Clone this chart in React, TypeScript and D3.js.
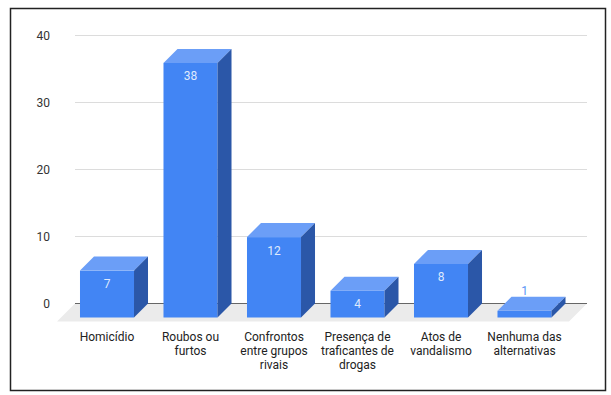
import React from "react";
import * as d3 from "d3";

const categories = [
  ["Homicídio"],
  ["Roubos ou", "furtos"],
  ["Confrontos", "entre grupos", "rivais"],
  ["Presença de", "traficantes de", "drogas"],
  ["Atos de", "vandalismo"],
  ["Nenhuma das", "alternativas"],
];
const values = [7, 38, 12, 4, 8, 1];
const yTicks = [0, 10, 20, 30, 40];

const W = 611;
const H = 395;
const depth = 14; // 3d offset of the bars
const floorDepth = 18;
const backLeft = 75;
const backRight = 587;

export default function App() {
  const keys = categories.map((c) => c.join(" "));

  // front plane of the bars
  const x = d3
    .scaleBand<string>()
    .domain(keys)
    .range([65.25, 566.25])
    .paddingInner(0.353)
    .paddingOuter(0.1765);

  // back plane (where gridlines live)
  const y = d3.scaleLinear().domain([0, 40]).range([303.5, 35.5]);
  const yFront = (v: number) => y(v) + depth;

  const floor = [
    [backLeft, y(0)],
    [backRight, y(0)],
    [backRight - floorDepth, y(0) + floorDepth],
    [backLeft - floorDepth, y(0) + floorDepth],
  ];
  const line = d3.line();

  return (
    <svg
      width={W}
      height={H}
      style={{ position: "absolute", left: 0, top: 0, background: "#fff" }}
      fontFamily="Roboto, Arial, sans-serif"
    >
      <rect x={10.5} y={8.5} width={595} height={382} fill="#fff" stroke="#222" strokeWidth={1.5} />

      {yTicks.map((t) => (
        <g key={t}>
          {t !== 0 && (
            <line x1={backLeft} x2={backRight} y1={y(t)} y2={y(t)} stroke="#dcdcdc" strokeWidth={1} />
          )}
          <text x={50} y={y(t) + 4.5} textAnchor="end" fontSize={12} fill="#333">
            {t}
          </text>
        </g>
      ))}

      <path d={line(floor as [number, number][]) + "Z"} fill="#ebebeb" />
      <line x1={backLeft} x2={backRight} y1={y(0)} y2={y(0)} stroke="#666" strokeWidth={1} />

      {values.map((v, i) => {
        const x0 = x(keys[i]) as number;
        const bw = x.bandwidth();
        const ft = yFront(v);
        const fb = yFront(0);
        const top = [
          [x0, ft],
          [x0 + depth, ft - depth],
          [x0 + bw + depth, ft - depth],
          [x0 + bw, ft],
        ];
        const side = [
          [x0 + bw, ft],
          [x0 + bw + depth, ft - depth],
          [x0 + bw + depth, fb - depth],
          [x0 + bw, fb],
        ];
        const inside = fb - ft > 22;
        return (
          <g key={keys[i]}>
            <rect x={x0} y={ft} width={bw} height={fb - ft} fill="#4285f4" />
            <path d={line(top as [number, number][]) + "Z"} fill="#6b9ef7" />
            <path d={line(side as [number, number][]) + "Z"} fill="#2b57a8" />
            <text
              x={x0 + bw / 2}
              y={inside ? ft + 17.5 : ft - depth - 2}
              textAnchor="middle"
              fontSize={12}
              fill={inside ? "#dfe9fd" : "#5b96f5"}
            >
              {v}
            </text>
          </g>
        );
      })}

      {categories.map((lines, i) => {
        const cx = (x(keys[i]) as number) + x.bandwidth() / 2;
        return (
          <text key={keys[i]} x={cx} y={341} textAnchor="middle" fontSize={12} fill="#222">
            {lines.map((l, j) => (
              <tspan key={j} x={cx} dy={j === 0 ? 0 : 14}>
                {l}
              </tspan>
            ))}
          </text>
        );
      })}
    </svg>
  );
}
